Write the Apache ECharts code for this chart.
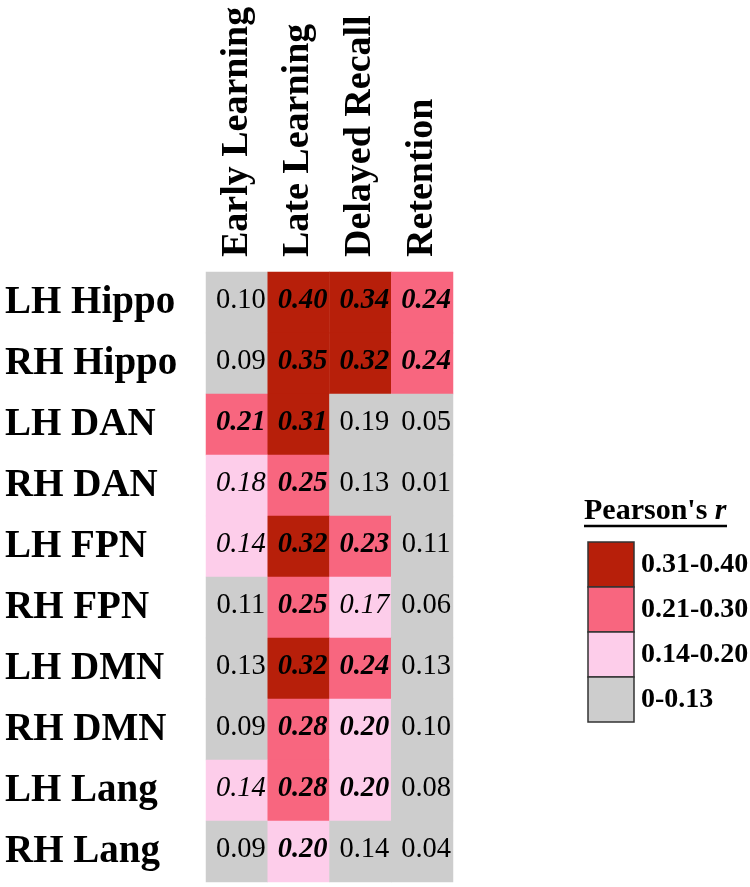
<!DOCTYPE html>
<html>
<head>
<meta charset="utf-8">
<script src="https://cdn.jsdelivr.net/npm/echarts@6/dist/echarts.min.js"></script>
<style>html,body{margin:0;padding:0;background:#fff;}#c{width:750px;height:887px;}</style>
</head>
<body>
<div id="c"></div>
<script>
const columns = ['Early Learning', 'Late Learning', 'Delayed Recall', 'Retention'];
const rows = ['LH Hippo', 'RH Hippo', 'LH DAN', 'RH DAN', 'LH FPN', 'RH FPN', 'LH DMN', 'RH DMN', 'LH Lang', 'RH Lang'];
// correlation values, one row per region, columns in order above
const values = [
  [0.10, 0.40, 0.34, 0.24],
  [0.09, 0.35, 0.32, 0.24],
  [0.21, 0.31, 0.19, 0.05],
  [0.18, 0.25, 0.13, 0.01],
  [0.14, 0.32, 0.23, 0.11],
  [0.11, 0.25, 0.17, 0.06],
  [0.13, 0.32, 0.24, 0.13],
  [0.09, 0.28, 0.20, 0.10],
  [0.14, 0.28, 0.20, 0.08],
  [0.09, 0.20, 0.14, 0.04]
];
// colour level: 0 = 0-0.13, 1 = 0.14-0.20, 2 = 0.21-0.30, 3 = 0.31-0.40
const levels = [
  [0, 3, 3, 2],
  [0, 3, 3, 2],
  [2, 3, 0, 0],
  [1, 2, 0, 0],
  [1, 3, 2, 0],
  [0, 2, 1, 0],
  [0, 3, 2, 0],
  [0, 2, 1, 0],
  [1, 2, 1, 0],
  [0, 1, 0, 0]
];
// text style: 'n' normal, 'i' italic, 'b' bold italic
const textStyles = [
  ['n', 'b', 'b', 'b'],
  ['n', 'b', 'b', 'b'],
  ['b', 'b', 'n', 'n'],
  ['i', 'b', 'n', 'n'],
  ['i', 'b', 'b', 'n'],
  ['n', 'b', 'i', 'n'],
  ['n', 'b', 'b', 'n'],
  ['n', 'b', 'b', 'n'],
  ['i', 'b', 'b', 'n'],
  ['n', 'b', 'n', 'n']
];
const legendTitle = "Pearson's ";
const legendTitleVar = 'r';
const legendLabels = ['0.31-0.40', '0.21-0.30', '0.14-0.20', '0-0.13'];
const levelColors = ['#cdcdcd', '#fdcdea', '#f8667f', '#b71f0a'];

const FONT = "'Liberation Serif', 'Times New Roman', serif";

const data = [];
rows.forEach((r, ri) => {
  columns.forEach((c, ci) => {
    const st = textStyles[ri][ci];
    data.push({
      value: [ci, ri, values[ri][ci], levels[ri][ci]],
      label: {
        fontStyle: st === 'n' ? 'normal' : 'italic',
        fontWeight: st === 'b' ? 'bold' : 'normal'
      }
    });
  });
});

const legendX = 588, legendTop = 542, boxW = 46, boxH = 45;
const graphics = [
  {
    type: 'text', left: 584, top: 496,
    style: {
      text: '{a|' + legendTitle + '}{b|' + legendTitleVar + '}',
      rich: {
        a: { fontFamily: FONT, fontSize: 30, fontWeight: 'bold', fill: '#000' },
        b: { fontFamily: FONT, fontSize: 30, fontWeight: 'bold', fontStyle: 'italic', fill: '#000' }
      }
    }
  },
  { type: 'line', shape: { x1: 584, y1: 526, x2: 727, y2: 526 }, style: { stroke: '#000', lineWidth: 2.5 } }
];
legendLabels.forEach((lab, i) => {
  const lvl = legendLabels.length - 1 - i;
  graphics.push({
    type: 'rect',
    shape: { x: legendX, y: legendTop + i * boxH, width: boxW, height: boxH },
    style: { fill: levelColors[lvl], stroke: '#333', lineWidth: 1.5 }
  });
  graphics.push({
    type: 'text', x: 641, y: legendTop + i * boxH + boxH / 2,
    style: { text: lab, fontFamily: FONT, fontSize: 28, fontWeight: 'bold', fill: '#000', verticalAlign: 'middle', align: 'left' }
  });
});

const chart = echarts.init(document.getElementById('c'), null, { renderer: 'canvas' });
chart.setOption({
  backgroundColor: '#fff',
  animation: false,
  grid: { left: 206, width: 247, top: 272, height: 610 },
  xAxis: {
    type: 'category', data: columns, position: 'top',
    axisLine: { show: false }, axisTick: { show: false }, splitLine: { show: false },
    axisLabel: { rotate: -90, margin: 15, fontFamily: FONT, fontSize: 38, fontWeight: 'bold', color: '#000', interval: 0 }
  },
  yAxis: {
    type: 'category', data: rows, inverse: true,
    axisLine: { show: false }, axisTick: { show: false }, splitLine: { show: false },
    axisLabel: { align: 'left', margin: 201, fontFamily: FONT, fontSize: 39, fontWeight: 'bold', color: '#000', interval: 0 }
  },
  visualMap: {
    type: 'piecewise', show: false, dimension: 3,
    pieces: levelColors.map((c, i) => ({ value: i, color: c }))
  },
  graphic: graphics,
  series: [{
    type: 'heatmap',
    data: data,
    itemStyle: { borderWidth: 0 },
    emphasis: { disabled: true },
    label: {
      show: true, fontFamily: FONT, fontSize: 28.5, color: '#000', offset: [4, -2],
      formatter: p => p.value[2].toFixed(2)
    }
  }]
});
</script>
</body>
</html>
